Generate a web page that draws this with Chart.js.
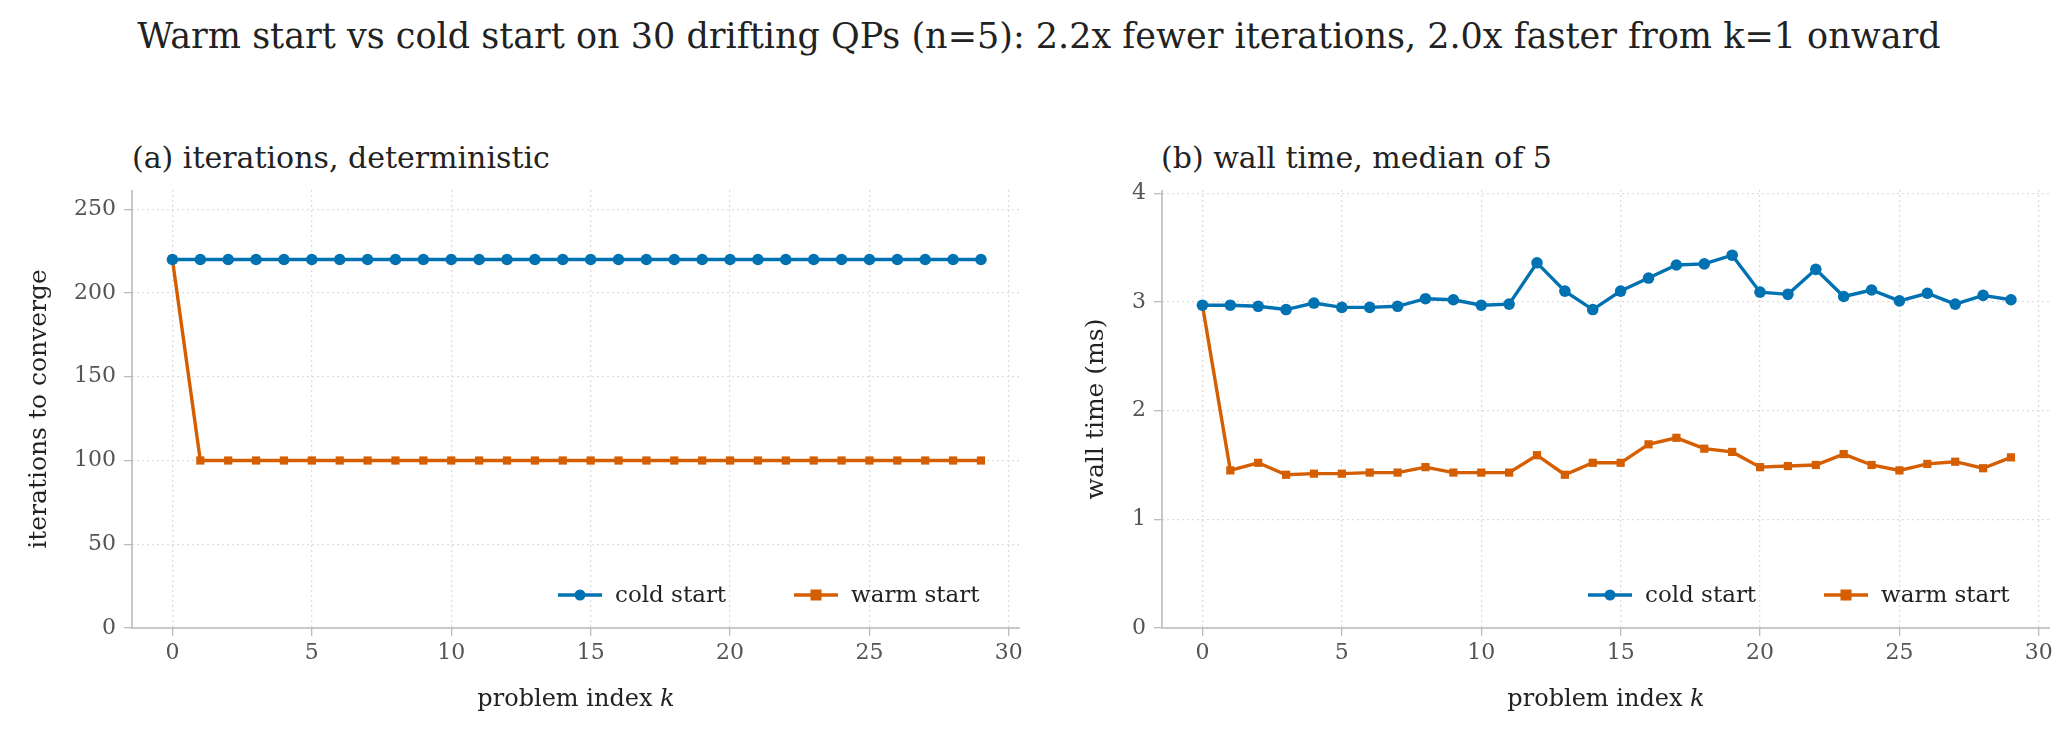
<!DOCTYPE html>
<html>
<head>
<meta charset="utf-8">
<script src="https://cdn.jsdelivr.net/npm/chart.js@4/dist/chart.umd.min.js"></script>
<style>
  body { margin: 0; width: 2068px; height: 737px; background: #fff; position: relative; overflow: hidden; font-family: "DejaVu Serif", serif; color: #222; }
  .t { position: absolute; white-space: nowrap; }
  #sup { left: 0; width: 2068px; text-align: center; top: 16px; font-size: 35px; padding-left: 10px; box-sizing: border-box; }
  .sub { font-size: 30px; top: 140px; }
  canvas { position: absolute; }
</style>
</head>
<body>
<div class="t" id="sup">Warm start vs cold start on 30 drifting QPs (n=5): 2.2x fewer iterations, 2.0x faster from k=1 onward</div>
<div class="t sub" style="left:132px">(a) iterations, deterministic</div>
<div class="t sub" style="left:1161px">(b) wall time, median of 5</div>
<div style="position:absolute;left:0;top:150px;width:1030px;height:587px"><canvas id="c1"></canvas></div>
<div style="position:absolute;left:1040px;top:150px;width:1028px;height:587px"><canvas id="c2"></canvas></div>
<script>
// problem index k = 0..29
const problemIndex = [0,1,2,3,4,5,6,7,8,9,10,11,12,13,14,15,16,17,18,19,20,21,22,23,24,25,26,27,28,29];
const coldIters = [220,220,220,220,220,220,220,220,220,220,220,220,220,220,220,220,220,220,220,220,220,220,220,220,220,220,220,220,220,220];
const warmIters = [220,100,100,100,100,100,100,100,100,100,100,100,100,100,100,100,100,100,100,100,100,100,100,100,100,100,100,100,100,100];
const coldTime = [2.97,2.97,2.96,2.93,2.99,2.95,2.95,2.96,3.03,3.02,2.97,2.98,3.36,3.10,2.93,3.10,3.22,3.34,3.35,3.43,3.09,3.07,3.30,3.05,3.11,3.01,3.08,2.98,3.06,3.02];
const warmTime = [2.97,1.45,1.52,1.41,1.42,1.42,1.43,1.43,1.48,1.43,1.43,1.43,1.59,1.41,1.52,1.52,1.69,1.75,1.65,1.62,1.48,1.49,1.50,1.60,1.50,1.45,1.51,1.53,1.47,1.57];
const xTicks = [0,5,10,15,20,25,30];

const BLUE = "#0072B2", ORANGE = "#D55E00";
const FONT = "DejaVu Serif";

function pts(ys) { return ys.map((y, i) => ({ x: problemIndex[i], y })); }

// solid left and bottom spines (grid lines are dotted)
const spines = {
  id: "spines",
  beforeDatasetsDraw(chart) {
    const { ctx, chartArea } = chart;
    ctx.save();
    ctx.strokeStyle = "#bbbbbb"; ctx.lineWidth = 1.6;
    ctx.beginPath();
    ctx.moveTo(chartArea.left, chartArea.top); ctx.lineTo(chartArea.left, chartArea.bottom);
    ctx.lineTo(chartArea.right, chartArea.bottom);
    ctx.stroke();
    ctx.restore();
  }
};

// legend drawn inside the plot, bottom right
const innerLegend = {
  id: "innerLegend",
  afterDraw(chart) {
    const { ctx, chartArea } = chart;
    const y = chartArea.bottom - 33;
    const items = [
      { label: "cold start", color: BLUE, style: "circle", x: chartArea.right - 462 },
      { label: "warm start", color: ORANGE, style: "rect", x: chartArea.right - 226 },
    ];
    ctx.save();
    items.forEach(it => {
      ctx.strokeStyle = it.color; ctx.fillStyle = it.color; ctx.lineWidth = 3.3;
      ctx.beginPath(); ctx.moveTo(it.x, y); ctx.lineTo(it.x + 44, y); ctx.stroke();
      ctx.beginPath();
      if (it.style === "circle") ctx.arc(it.x + 22, y, 5.5, 0, Math.PI * 2);
      else ctx.rect(it.x + 22 - 5.5, y - 5.5, 11, 11);
      ctx.fill();
      ctx.fillStyle = "#222"; ctx.font = "23px '" + FONT + "'"; ctx.textBaseline = "middle";
      ctx.fillText(it.label, it.x + 57, y + 1);
    });
    ctx.restore();
  }
};

function makeChart(id, cold, warm, yMax, yStep, yTitle, padLeft, yWidth, padRight) {
  return new Chart(document.getElementById(id), {
    type: "line",
    data: {
      datasets: [
        { label: "cold start", data: pts(cold), borderColor: BLUE, backgroundColor: BLUE, borderWidth: 3.4, pointRadius: 5.8, pointStyle: "circle", pointBorderWidth: 0 },
        { label: "warm start", data: pts(warm), borderColor: ORANGE, backgroundColor: ORANGE, borderWidth: 3.4, pointRadius: 5.8, pointStyle: "rect", pointBorderWidth: 0 },
      ],
    },
    options: {
      responsive: true, maintainAspectRatio: false, animation: false,
      layout: { padding: { top: 40, right: padRight, left: padLeft, bottom: 19 } },
      plugins: { legend: { display: false }, tooltip: { enabled: false } },
      scales: {
        x: {
          type: "linear", min: -1.45, max: 30.4,
          afterBuildTicks: a => { a.ticks = xTicks.map(v => ({ value: v })); },
          afterFit: a => { a.height = 90; },
          grid: { color: "#dddddd", lineWidth: 1.3, tickLength: 8, tickColor: "#bbbbbb", tickBorderDash: [] },
          border: { display: false, dash: [2, 3] },
          ticks: { color: "#555", font: { family: FONT, size: 22 }, padding: 4, maxRotation: 0 },
          title: { display: true, text: "problem index 𝑘", color: "#222", font: { family: FONT, size: 24 }, padding: { top: 4 } },
        },
        y: {
          min: 0, max: yMax,
          afterBuildTicks: a => { const t = []; for (let v = 0; v <= yMax; v += yStep) t.push({ value: v }); a.ticks = t; },
          afterFit: a => { a.width = yWidth; },
          grid: { color: "#dddddd", lineWidth: 1.3, tickLength: 8, tickColor: "#bbbbbb", tickBorderDash: [] },
          border: { display: false, dash: [2, 3] },
          ticks: { color: "#555", font: { family: FONT, size: 22 }, padding: 8 },
          title: { display: true, text: yTitle, color: "#222", font: { family: FONT, size: 25 }, padding: { bottom: 4 } },
        },
      },
    },
    plugins: [spines, innerLegend],
  });
}

makeChart("c1", coldIters, warmIters, 261.5, 50, "iterations to converge", 20, 112, 10);
makeChart("c2", coldTime, warmTime, 4.03, 1, "wall time (ms)", 37, 85, 18);
</script>
</body>
</html>
